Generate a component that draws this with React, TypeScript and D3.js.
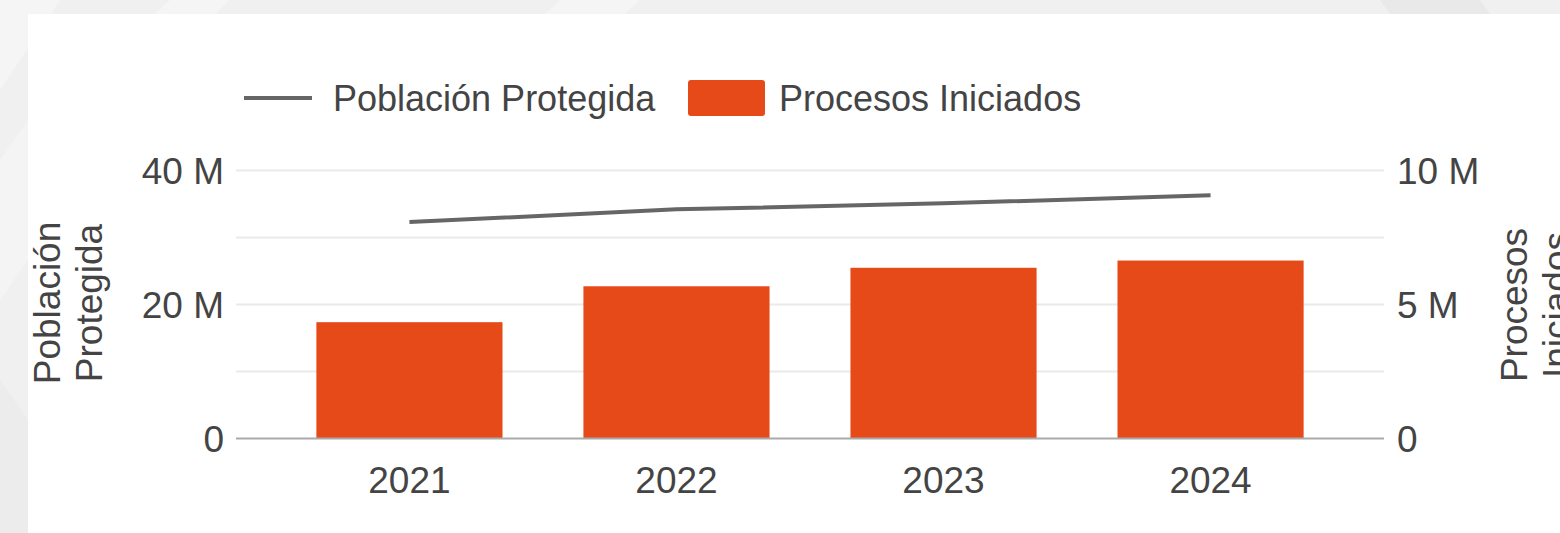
import React from "react";
import * as d3 from "d3";

const years = ["2021", "2022", "2023", "2024"];
const poblacionProtegida = [32.3e6, 34.2e6, 35.1e6, 36.3e6];
const procesosIniciados = [4.34e6, 5.68e6, 6.37e6, 6.64e6];
const leftGridTicks = [0, 10e6, 20e6, 30e6, 40e6];
const leftLabelTicks = [0, 20e6, 40e6];
const rightLabelTicks = [0, 5e6, 10e6];
const leftTitle = ["Población", "Protegida"];
const rightTitle = ["Procesos", "Iniciados"];
const legendLine = "Población Protegida";
const legendBar = "Procesos Iniciados";

const W = 1560;
const H = 533;
const FONT = "'Liberation Sans', Arial, Helvetica, sans-serif";
const TXT = "#444";
const BAR = "#E64A19";
const LINE = "#666";

const fmt = (v: number) => (v === 0 ? "0" : `${v / 1e6} M`);

export default function App() {
  const plotL = 236;
  const plotR = 1384;
  const plotT = 170.5;
  const plotB = 438.5;

  const x = d3
    .scaleBand<string>()
    .domain(years)
    .range([plotL, plotR])
    .paddingInner(0.303)
    .paddingOuter(0.301);
  const yL = d3.scaleLinear().domain([0, 40e6]).range([plotB, plotT]);
  const yR = d3.scaleLinear().domain([0, 10e6]).range([plotB, plotT]);

  const line = d3
    .line<number>()
    .x((_, i) => (x(years[i]) as number) + x.bandwidth() / 2)
    .y((d) => yL(d));

  const midYL = 303;
  const midYR = 305;

  return (
    <div style={{ position: "absolute", left: 0, top: 0 }}>
      <svg width={W} height={H} style={{ display: "block" }} fontFamily={FONT}>
        <rect x={0} y={0} width={W} height={H} fill="#f0f0f0" />
        <polygon points="0,0 60,0 0,90" fill="#f5f5f5" />
        <polygon points="0,160 28,120 28,260 0,300" fill="#f4f4f4" />
        <polygon points="0,380 28,420 28,533 0,533" fill="#ececec" />
        <polygon points="170,0 230,0 215,14 155,14" fill="#f5f5f5" />
        <polygon points="560,0 640,0 625,14 545,14" fill="#f5f5f5" />
        <polygon points="1380,0 1480,0 1490,14 1390,14" fill="#e9e9e9" />
        <rect x={28} y={14} width={W - 28} height={H - 14} fill="#ffffff" />

        {/* gridlines */}
        {leftGridTicks.map((t) =>
          t === 0 ? null : (
            <line
              key={t}
              x1={plotL}
              x2={plotR}
              y1={yL(t)}
              y2={yL(t)}
              stroke="#ece9ea"
              strokeWidth={2}
            />
          )
        )}

        {/* bars */}
        {procesosIniciados.map((v, i) => (
          <rect
            key={years[i]}
            x={x(years[i])}
            y={yR(v)}
            width={x.bandwidth()}
            height={plotB - yR(v)}
            fill={BAR}
          />
        ))}

        {/* baseline */}
        <line x1={plotL} x2={plotR} y1={plotB} y2={plotB} stroke="#aaaaaa" strokeWidth={2} />

        {/* line */}
        <path d={line(poblacionProtegida) || ""} fill="none" stroke={LINE} strokeWidth={4} />

        {/* left tick labels */}
        {leftLabelTicks.map((t) => (
          <text
            key={t}
            x={plotL - 12}
            y={yL(t)}
            dy="0.36em"
            textAnchor="end"
            fontSize={37}
            fill={TXT}
          >
            {fmt(t)}
          </text>
        ))}

        {/* right tick labels */}
        {rightLabelTicks.map((t) => (
          <text
            key={t}
            x={plotR + 13}
            y={yR(t)}
            dy="0.36em"
            textAnchor="start"
            fontSize={37}
            fill={TXT}
          >
            {fmt(t)}
          </text>
        ))}

        {/* x labels */}
        {years.map((yv) => (
          <text
            key={yv}
            x={(x(yv) as number) + x.bandwidth() / 2}
            y={493}
            textAnchor="middle"
            fontSize={37}
            fill={TXT}
          >
            {yv}
          </text>
        ))}

        {/* axis titles */}
        {leftTitle.map((s, i) => (
          <text
            key={s}
            transform={`translate(${60 + i * 42},${midYL}) rotate(-90)`}
            textAnchor="middle"
            fontSize={37}
            fill={TXT}
          >
            {s}
          </text>
        ))}
        {rightTitle.map((s, i) => (
          <text
            key={s}
            transform={`translate(${1527 + i * 42},${midYR}) rotate(-90)`}
            textAnchor="middle"
            fontSize={37}
            fill={TXT}
          >
            {s}
          </text>
        ))}

        {/* legend */}
        <line x1={244} x2={312} y1={98} y2={98} stroke={LINE} strokeWidth={4} />
        <text x={333} y={98} dy="0.36em" fontSize={36} fill={TXT}>
          {legendLine}
        </text>
        <rect x={688} y={80} width={77} height={36} rx={3} fill={BAR} />
        <text x={779} y={98} dy="0.36em" fontSize={36} fill={TXT}>
          {legendBar}
        </text>
      </svg>
    </div>
  );
}
